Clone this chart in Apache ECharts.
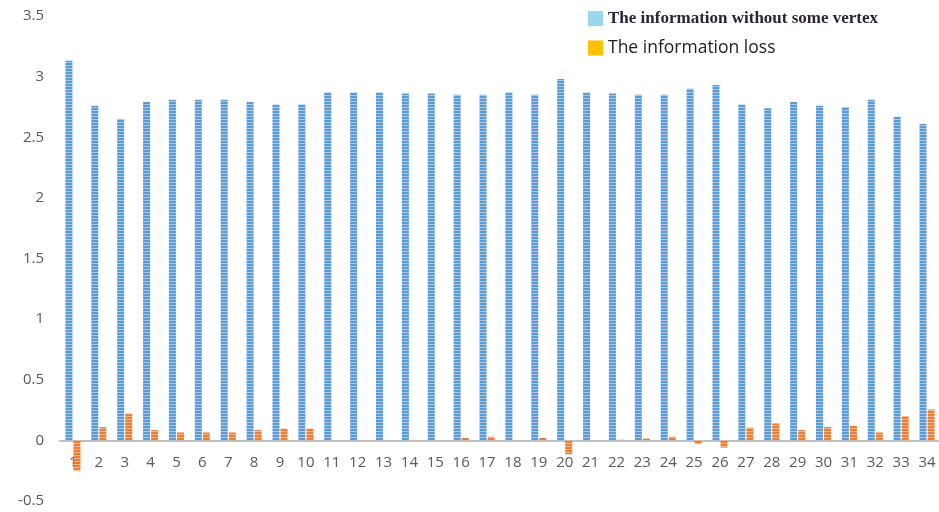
<!DOCTYPE html>
<html>
<head>
<meta charset="utf-8">
<script src="https://cdn.jsdelivr.net/npm/echarts@6/dist/echarts.min.js"></script>
<style>
  html, body { margin: 0; padding: 0; background: #fff; }
  #chart { width: 939px; height: 512px; }
</style>
</head>
<body>
<div id="chart"></div>
<script>
// categories 1..34
const categories = ['1', '2', '3', '4', '5', '6', '7', '8', '9', '10', '11', '12', '13', '14', '15', '16', '17',
  '18', '19', '20', '21', '22', '23', '24', '25', '26', '27', '28', '29', '30', '31', '32', '33', '34']
// The information without some vertex
const infoWithout = [3.13, 2.76, 2.65, 2.79, 2.81, 2.81, 2.81, 2.79, 2.77, 2.77, 2.87, 2.87, 2.87, 2.86, 2.86, 2.85, 2.85,
  2.87, 2.85, 2.98, 2.87, 2.86, 2.85, 2.85, 2.90, 2.93, 2.77, 2.74, 2.79, 2.76, 2.75, 2.81, 2.67, 2.61]
// The information loss
const infoLoss = [-0.25, 0.11, 0.22, 0.085, 0.065, 0.065, 0.065, 0.085, 0.097, 0.097, 0, 0, 0, 0.004, 0.003, 0.02, 0.03,
  0, 0.02, -0.115, 0, 0.005, 0.015, 0.03, -0.03, -0.06, 0.105, 0.14, 0.085, 0.11, 0.12, 0.065, 0.2, 0.255]
const legendNames = ['The information without some vertex', 'The information loss']

// striped fill like the original
function stripes (base, light) {
  let c = document.createElement('canvas')
  c.width = 4
  c.height = 3
  let ctx = c.getContext('2d')
  ctx.fillStyle = base
  ctx.fillRect(0, 0, 4, 3)
  ctx.fillStyle = light
  ctx.fillRect(0, 2, 4, 1)
  return { image: c, repeat: 'repeat' }
}

let chart = echarts.init(document.getElementById('chart'))
let gridHeight = 485
let labelStyle = {
  color: '#595959',
  fontSize: 15,
  fontFamily: 'Open Sans'
}
let options = {
  animation: false,
  legend: {
    orient: 'vertical',
    left: 583,
    top: 5,
    itemWidth: 15,
    itemHeight: 15,
    itemGap: 12,
    data: [
      {
        name: legendNames[0],
        icon: 'rect',
        itemStyle: { color: '#9DD6EA' },
        textStyle: { fontFamily: 'Liberation Serif', fontWeight: 'bold', fontSize: 17, color: '#2E2236' }
      },
      {
        name: legendNames[1],
        icon: 'rect',
        itemStyle: { color: '#FFC000' },
        textStyle: { fontFamily: 'Open Sans', fontSize: 17.5, color: '#222' }
      }
    ]
  },
  grid: {
    left: 60,
    width: 880,
    top: 16,
    height: gridHeight,
    containLabel: false,
    outerBoundsMode: 'none'
  },
  xAxis: {
    type: 'category',
    data: categories,
    // axis sits at y = 0, which is one 0.5 step above the bottom (-0.5)
    offset: -gridHeight / 8,
    axisLine: { onZero: false, lineStyle: { color: '#C0C0C0', width: 2 } },
    axisTick: { show: false },
    axisLabel: Object.assign({ margin: 15, interval: 0 }, labelStyle)
  },
  yAxis: {
    type: 'value',
    min: -0.5,
    max: 3.5,
    interval: 0.5,
    axisLine: { show: false },
    axisTick: { show: false },
    splitLine: { show: false },
    axisLabel: Object.assign({ margin: 16 }, labelStyle)
  },
  series: [
    {
      name: legendNames[0],
      type: 'bar',
      barWidth: 7,
      barGap: '15%',
      itemStyle: { color: stripes('#5B9BD5', '#A9C9EC') },
      data: infoWithout
    },
    {
      name: legendNames[1],
      type: 'bar',
      barWidth: 7,
      itemStyle: { color: stripes('#ED7D31', '#F5B48A') },
      data: infoLoss
    }
  ]
}
chart.setOption(options)
</script>
</body>
</html>
